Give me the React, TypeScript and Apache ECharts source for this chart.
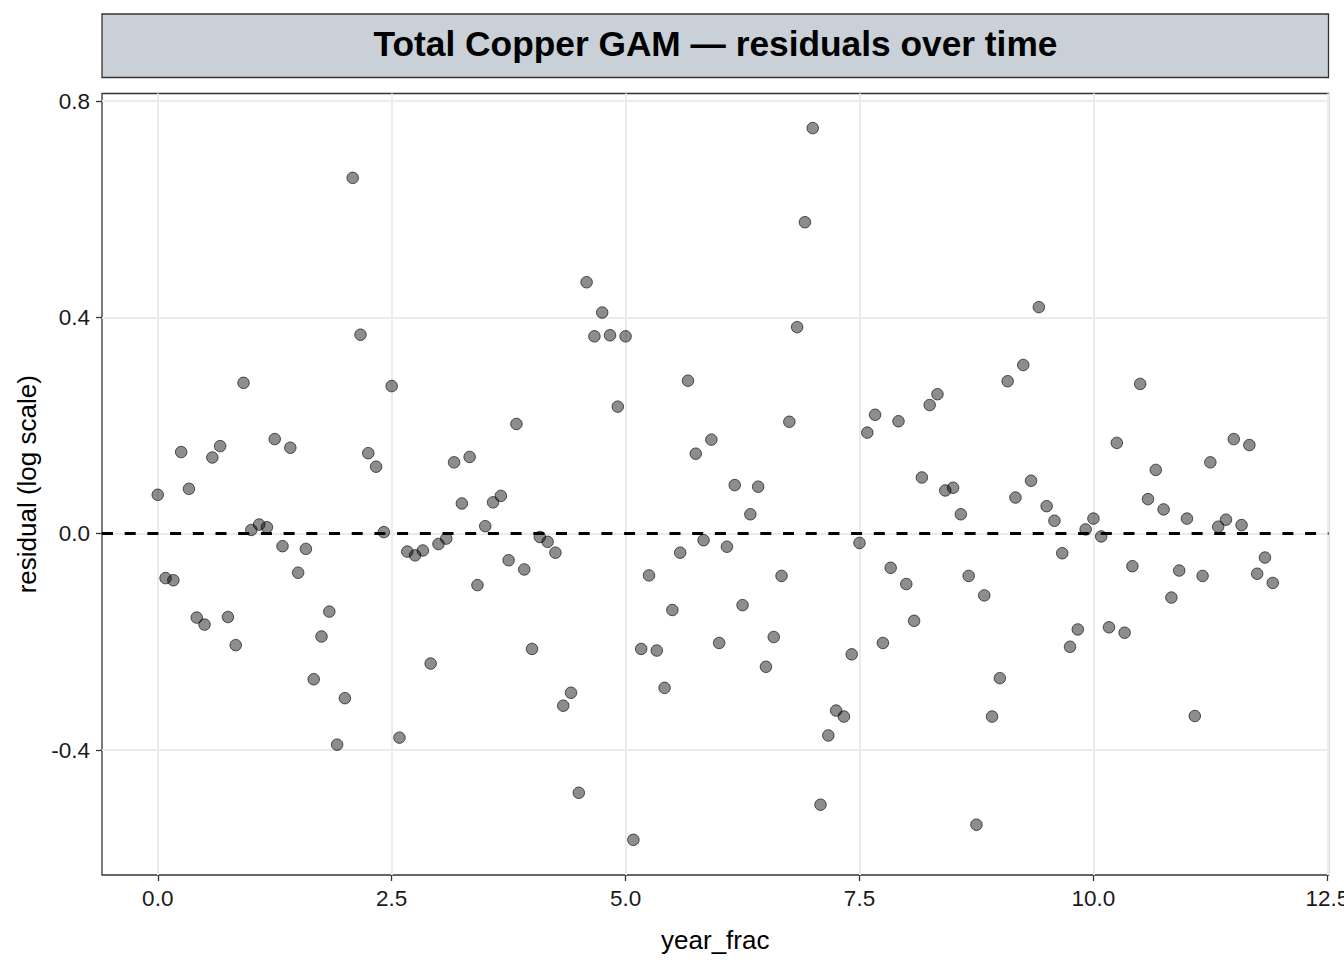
import React, { useEffect, useRef } from "react";
import * as echarts from "echarts";

// Monthly GAM residuals (log scale), one value per month starting at year_frac = 0
const residuals: number[] = [
  0.072, -0.082, -0.086, 0.151, 0.083, -0.155, -0.168, 0.141, 0.162, -0.154, -0.206, 0.279,
  0.007, 0.017, 0.012, 0.175, -0.023, 0.159, -0.072, -0.028, -0.269, -0.19, -0.144, -0.39,
  -0.304, 0.658, 0.368, 0.149, 0.124, 0.003, 0.273, -0.377, -0.033, -0.04, -0.031, -0.24,
  -0.019, -0.009, 0.132, 0.056, 0.142, -0.095, 0.014, 0.058, 0.07, -0.049, 0.203, -0.066,
  -0.213, -0.006, -0.015, -0.035, -0.318, -0.294, -0.479, 0.465, 0.365, 0.409, 0.367, 0.235,
  0.365, -0.566, -0.213, -0.077, -0.216, -0.285, -0.141, -0.035, 0.283, 0.148, -0.012, 0.174,
  -0.202, -0.024, 0.09, -0.132, 0.036, 0.087, -0.246, -0.191, -0.078, 0.207, 0.382, 0.576,
  0.75, -0.501, -0.373, -0.327, -0.338, -0.223, -0.017, 0.187, 0.22, -0.202, -0.063, 0.208,
  -0.093, -0.161, 0.104, 0.238, 0.258, 0.08, 0.085, 0.036, -0.078, -0.538, -0.114, -0.338,
  -0.267, 0.282, 0.067, 0.312, 0.098, 0.419, 0.051, 0.024, -0.036, -0.209, -0.177, 0.008,
  0.028, -0.005, -0.173, 0.168, -0.183, -0.06, 0.277, 0.064, 0.118, 0.045, -0.118, -0.068,
  0.028, -0.337, -0.078, 0.132, 0.013, 0.026, 0.175, 0.016, 0.164, -0.074, -0.044, -0.091,
];

const monthsPerYear = 12;
const xTicks = [0, 2.5, 5, 7.5, 10, 12.5];
const yTicks = [-0.4, 0, 0.4, 0.8];
const referenceLine = 0;

const titleText = "Total Copper GAM — residuals over time";
const xTitle = "year_frac";
const yTitle = "residual (log scale)";

const FONT = "'Liberation Sans', Arial, Helvetica, sans-serif";

export default function App() {
  const ref = useRef<HTMLDivElement>(null);

  useEffect(() => {
    if (!ref.current) return;
    const chart = echarts.init(ref.current, null, { renderer: "svg" });

    const points = residuals.map((v, i) => [i / monthsPerYear, v]);

    const option: any = {
      animation: false,
      backgroundColor: "#ffffff",
      textStyle: { fontFamily: FONT },
      graphic: [
        {
          type: "rect",
          z: 0,
          shape: { x: 102, y: 14, width: 1226.5, height: 63.5 },
          style: { fill: "#c9d0d7", stroke: "#333333", lineWidth: 1.3 },
        },
        {
          type: "text",
          z: 1,
          x: 715.5,
          y: 43.5,
          style: {
            text: titleText,
            textAlign: "center",
            textVerticalAlign: "middle",
            fill: "#000000",
            fontFamily: FONT,
            fontWeight: "bold",
            fontSize: 35.3,
          },
        },
      ],
      grid: {
        left: 102,
        right: 15.5,
        top: 93.5,
        bottom: 85,
        show: true,
        backgroundColor: "#ffffff",
        borderColor: "#333333",
        borderWidth: 1.3,
        containLabel: false,
        outerBoundsMode: "none",
      },
      xAxis: {
        type: "value",
        position: "bottom",
        min: -0.596,
        max: 12.5125,
        minInterval: 2.5,
        maxInterval: 2.5,
        name: xTitle,
        nameLocation: "middle",
        nameGap: 52,
        nameTextStyle: { fontFamily: FONT, fontSize: 26, color: "#000000" },
        axisLine: { show: false, onZero: false },
        axisTick: {
          show: true,
          inside: false,
          length: 6,
          customValues: xTicks,
          lineStyle: { color: "#333333", width: 1.3 },
        },
        axisLabel: {
          customValues: xTicks,
          formatter: (v: number) => v.toFixed(1),
          fontFamily: FONT,
          fontSize: 22.5,
          color: "#1a1a1a",
          margin: 12,
          hideOverlap: false,
        },
        splitLine: { show: true, lineStyle: { color: "#ebebeb", width: 2 } },
      },
      yAxis: {
        type: "value",
        position: "left",
        min: -0.631,
        max: 0.814,
        minInterval: 0.4,
        maxInterval: 0.4,
        name: yTitle,
        nameLocation: "middle",
        nameRotate: 90,
        nameGap: 57,
        nameTextStyle: { fontFamily: FONT, fontSize: 26, color: "#000000" },
        axisLine: { show: false, onZero: false },
        axisTick: {
          show: true,
          inside: false,
          length: 6,
          customValues: yTicks,
          lineStyle: { color: "#333333", width: 1.3 },
        },
        axisLabel: {
          customValues: yTicks,
          formatter: (v: number) => v.toFixed(1),
          fontFamily: FONT,
          fontSize: 22.5,
          color: "#1a1a1a",
          margin: 12,
          hideOverlap: false,
        },
        splitLine: { show: true, lineStyle: { color: "#ebebeb", width: 2 } },
      },
      series: [
        {
          type: "scatter",
          data: points,
          symbol: "circle",
          symbolSize: 11.5,
          itemStyle: {
            color: "rgba(0,0,0,0.56)",
            borderColor: "rgba(0,0,0,0.8)",
            borderWidth: 1,
          },
          emphasis: { disabled: true },
          markLine: {
            silent: true,
            symbol: ["none", "none"],
            label: { show: false },
            lineStyle: { color: "#000000", type: [11, 11.7], width: 2.8 },
            data: [{ yAxis: referenceLine }],
          },
        },
      ],
    };

    chart.setOption(option);
    return () => chart.dispose();
  }, []);

  return (
    <div
      ref={ref}
      style={{ position: "fixed", left: 0, top: 0, width: 1344, height: 960 }}
    />
  );
}
